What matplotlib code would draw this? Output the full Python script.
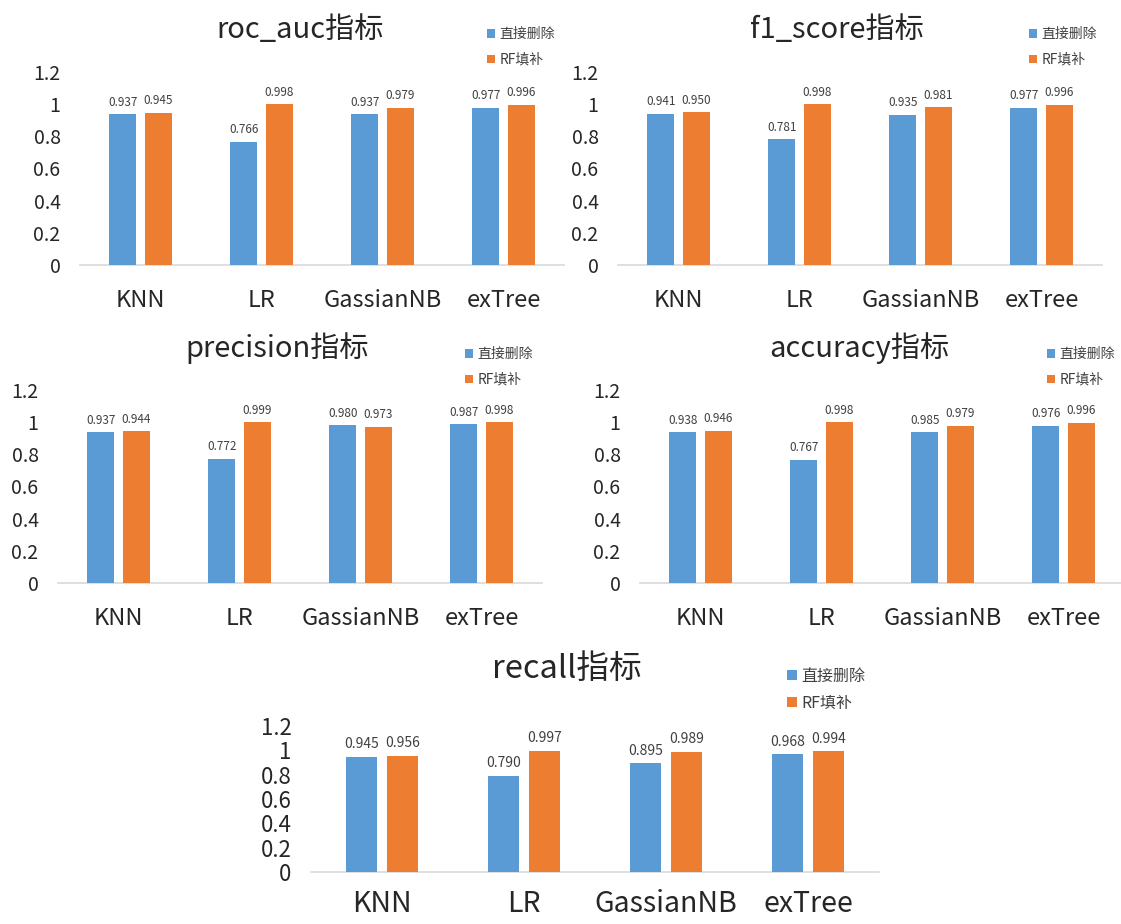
import matplotlib
matplotlib.use("Agg")
import matplotlib.pyplot as plt
import numpy as np

plt.rcParams['font.family'] = ['Noto Sans CJK SC', 'DejaVu Sans']

categories = ['KNN', 'LR', 'GassianNB', 'exTree']
series_names = ['直接删除', 'RF填补']

roc_del = [0.937, 0.766, 0.937, 0.977]
roc_rf = [0.945, 0.998, 0.979, 0.996]
f1_del = [0.941, 0.781, 0.935, 0.977]
f1_rf = [0.950, 0.998, 0.981, 0.996]
prec_del = [0.937, 0.772, 0.980, 0.987]
prec_rf = [0.944, 0.999, 0.973, 0.998]
acc_del = [0.938, 0.767, 0.938, 0.976]
acc_del_labels = ['0.938', '0.767', '0.985', '0.976']
acc_rf = [0.946, 0.998, 0.979, 0.996]
rec_del = [0.945, 0.790, 0.895, 0.968]
rec_rf = [0.956, 0.997, 0.989, 0.994]

yticks = [0, 0.2, 0.4, 0.6, 0.8, 1.0, 1.2]
ytick_labels = ['0', '0.2', '0.4', '0.6', '0.8', '1', '1.2']

BLUE = '#5B9BD5'
ORANGE = '#ED7D31'
GRID = '#D9D9D9'

W, H = 1121, 924
fig = plt.figure(figsize=(W / 100, H / 100), dpi=100)


def px_axes(x0, x1, ytop, ybot):
    return fig.add_axes([x0 / W, 1 - ybot / H, (x1 - x0) / W, (ybot - ytop) / H])


small = dict(title=21, tick=14, cat=17, val=8.5, leg=10, ls=0.85, ypad=14, xpad=17)
big = dict(title=23.5, tick=16, cat=20.5, val=10, leg=11.5, ls=0.62, ypad=14, xpad=12)

panels = [
    dict(title='roc_auc指标', d=roc_del, r=roc_rf, dl=None, box=(80, 564, 72, 265),
         tpos=(300, 30), lpos=(487, 27), fs=small),
    dict(title='f1_score指标', d=f1_del, r=f1_rf, dl=None, box=(618, 1102, 72, 265),
         tpos=(837, 30), lpos=(1029, 27), fs=small),
    dict(title='precision指标', d=prec_del, r=prec_rf, dl=None, box=(58, 542, 390, 583),
         tpos=(277, 348), lpos=(465, 347), fs=small),
    dict(title='accuracy指标', d=acc_del, r=acc_rf, dl=acc_del_labels, box=(640, 1124, 390, 583),
         tpos=(859, 348), lpos=(1047, 347), fs=small),
    dict(title='recall指标', d=rec_del, r=rec_rf, dl=None, box=(311, 879, 726, 872),
         tpos=(567, 669), lpos=(787, 668), fs=big),
]

x = np.arange(len(categories))
bw = 0.223
off = 0.145

for p in panels:
    x0, x1, yt, yb = p['box']
    ax = px_axes(x0, x1, yt, yb)
    fs = p['fs']
    b1 = ax.bar(x - off, p['d'], bw, color=BLUE, label=series_names[0], zorder=3)
    b2 = ax.bar(x + off, p['r'], bw, color=ORANGE, label=series_names[1], zorder=3)
    lab1 = p['dl'] if p['dl'] is not None else [f'{v:.3f}' for v in p['d']]
    lab2 = [f'{v:.3f}' for v in p['r']]
    for xi, v, t in zip(x - off, p['d'], lab1):
        ax.annotate(t, (xi, v), xytext=(0, 4), textcoords='offset points',
                    ha='center', va='bottom', fontsize=fs['val'], color='#404040')
    for xi, v, t in zip(x + off, p['r'], lab2):
        ax.annotate(t, (xi, v), xytext=(0, 4), textcoords='offset points',
                    ha='center', va='bottom', fontsize=fs['val'], color='#404040')
    ax.set_xlim(-0.5, 3.5)
    ax.set_ylim(0, 1.2)
    ax.set_yticks(yticks)
    ax.set_yticklabels(ytick_labels, fontsize=fs['tick'], color='#262626')
    ax.set_xticks(x)
    ax.set_xticklabels(categories, fontsize=fs['cat'], color='#262626')
    ax.tick_params(axis='both', length=0)
    ax.tick_params(axis='y', pad=fs['ypad'])
    ax.tick_params(axis='x', pad=fs['xpad'])
    for s in ['top', 'right', 'left']:
        ax.spines[s].set_visible(False)
    ax.spines['bottom'].set_color(GRID)
    ax.spines['bottom'].set_linewidth(1.2)
    ax.patch.set_alpha(0)
    fig.text(p['tpos'][0] / W, 1 - p['tpos'][1] / H, p['title'], ha='center', va='center',
             fontsize=fs['title'], color='#262626')
    lx, ly = p['lpos']
    ax.legend(handles=[b1, b2], loc='upper left', bbox_to_anchor=(lx / W, 1 - ly / H),
              bbox_transform=fig.transFigure, frameon=False, fontsize=fs['leg'],
              handlelength=0.6, handleheight=0.6, handletextpad=0.3, labelspacing=fs['ls'],
              borderpad=0, borderaxespad=0, labelcolor='#404040')

fig.savefig('out.png', dpi=100)
